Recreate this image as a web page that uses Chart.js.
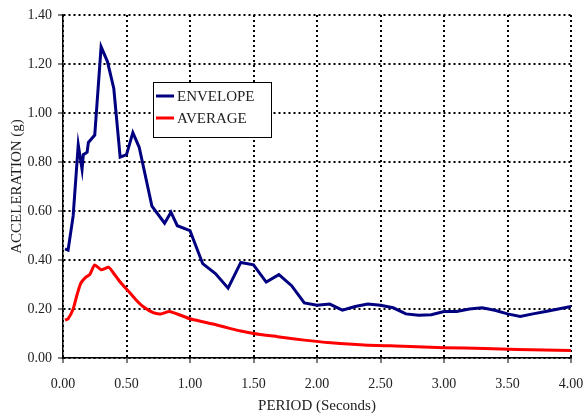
<!DOCTYPE html>
<html>
<head>
<meta charset="utf-8">
<script src="https://cdn.jsdelivr.net/npm/chart.js@4"></script>
<style>
  html, body { margin: 0; padding: 0; background: #fff; }
  #wrap { width: 586px; height: 419px; position: relative; }
</style>
</head>
<body>
<div id="wrap"><canvas id="spectrum"></canvas></div>
<script>
// envelope spectrum (period in seconds, acceleration in g)
const envelopePeriod = [0.016, 0.04, 0.08, 0.12, 0.15, 0.16, 0.19, 0.20, 0.25, 0.30, 0.35, 0.40, 0.45, 0.50, 0.55, 0.60,
  0.70, 0.80, 0.85, 0.90, 1.00, 1.10, 1.20, 1.30, 1.40, 1.50, 1.60, 1.70, 1.80, 1.90, 2.00, 2.10, 2.20, 2.30, 2.40,
  2.50, 2.60, 2.70, 2.80, 2.90, 3.00, 3.10, 3.20, 3.30, 3.40, 3.50, 3.60, 3.70, 3.80, 3.90, 4.00];
const envelopeAccel = [0.445, 0.44, 0.58, 0.87, 0.77, 0.83, 0.84, 0.88, 0.91, 1.27, 1.21, 1.10, 0.82, 0.83, 0.92, 0.86,
  0.62, 0.55, 0.595, 0.54, 0.52, 0.385, 0.345, 0.285, 0.39, 0.38, 0.31, 0.34, 0.295, 0.225, 0.215, 0.22, 0.195, 0.21, 0.22,
  0.215, 0.205, 0.18, 0.175, 0.177, 0.19, 0.19, 0.20, 0.205, 0.195, 0.18, 0.17, 0.18, 0.19, 0.20, 0.21];

// average spectrum
const averagePeriod = [0.016, 0.04, 0.08, 0.11, 0.14, 0.18, 0.21, 0.25, 0.30, 0.36, 0.40, 0.45, 0.52, 0.57, 0.63, 0.71,
  0.77, 0.84, 1.00, 1.11, 1.21, 1.32, 1.40, 1.50, 1.69, 1.90, 2.11, 2.37, 2.68, 3.00, 3.32, 3.58, 4.00];
const averageAccel = [0.155, 0.16, 0.20, 0.257, 0.305, 0.33, 0.34, 0.38, 0.36, 0.37, 0.345, 0.31, 0.27, 0.24, 0.21, 0.185,
  0.18, 0.19, 0.16, 0.147, 0.135, 0.12, 0.11, 0.10, 0.087, 0.073, 0.062, 0.053, 0.048, 0.042, 0.039, 0.035, 0.031];

const seriesNames = ["ENVELOPE", "AVERAGE"];
const xTitle = "PERIOD (Seconds)";
const yTitle = "ACCELERATION (g)";

const serif = "'Liberation Serif', 'DejaVu Serif', serif";

function toPoints(xs, ys) {
  return xs.map((x, i) => ({ x: x, y: ys[i] }));
}

// legend box sits inside the plot, drawn by hand
const boxLegend = {
  id: "boxLegend",
  afterDraw(chart) {
    const ctx = chart.ctx;
    const left = 153, top = 82, w = 118, h = 55;
    ctx.save();
    ctx.fillStyle = "#fff";
    ctx.fillRect(left, top, w, h);
    ctx.strokeStyle = "#000";
    ctx.lineWidth = 1;
    ctx.strokeRect(left + 0.5, top + 0.5, w, h);
    ctx.font = "15px " + serif;
    ctx.textBaseline = "middle";
    chart.data.datasets.forEach((ds, i) => {
      const y = top + 14 + i * 22;
      ctx.strokeStyle = ds.borderColor;
      ctx.lineWidth = 3;
      ctx.beginPath();
      ctx.moveTo(left + 3, y);
      ctx.lineTo(left + 21, y);
      ctx.stroke();
      ctx.fillStyle = "#222";
      ctx.fillText(ds.label, left + 24, y + 1);
    });
    ctx.restore();
  }
};

const ctx = document.getElementById("spectrum").getContext("2d");
const chart = new Chart(ctx, {
  type: "line",
  data: {
    datasets: [
      {
        label: seriesNames[0],
        data: toPoints(envelopePeriod, envelopeAccel),
        borderColor: "#000080",
        borderWidth: 3,
        pointRadius: 0,
        tension: 0
      },
      {
        label: seriesNames[1],
        data: toPoints(averagePeriod, averageAccel),
        borderColor: "#ff0000",
        borderWidth: 3,
        pointRadius: 0,
        tension: 0.2
      }
    ]
  },
  options: {
    responsive: true,
    maintainAspectRatio: false,
    animation: false,
    layout: { padding: { left: 0, top: 15, right: 15, bottom: 0 } },
    plugins: {
      legend: { display: false },
      tooltip: { enabled: false }
    },
    scales: {
      x: {
        type: "linear",
        min: 0,
        max: 4,
        afterFit: s => { s.height = 61; s.paddingLeft = 0; s.paddingRight = 0; },
        ticks: {
          stepSize: 0.5,
          color: "#222",
          font: { family: serif, size: 14 },
          padding: 13,
          maxRotation: 0,
          callback: v => v.toFixed(2)
        },
        grid: {
          color: "#000",
          lineWidth: 2,
          tickColor: "#000",
          tickWidth: 1,
          tickLength: 5
        },
        border: { color: "#000", width: 1.5, dash: [2, 3] },
        title: {
          display: true,
          text: xTitle,
          color: "#222",
          font: { family: serif, size: 15 },
          padding: { top: 6 }
        }
      },
      y: {
        min: 0,
        max: 1.4,
        afterFit: s => { s.width = 63; s.paddingTop = 0; s.paddingBottom = 0; },
        ticks: {
          stepSize: 0.2,
          color: "#222",
          font: { family: serif, size: 14 },
          padding: 6,
          callback: v => v.toFixed(2)
        },
        grid: {
          color: "#000",
          lineWidth: 2,
          tickColor: "#000",
          tickWidth: 1,
          tickLength: 5
        },
        border: { color: "#000", width: 1.5, dash: [2, 3] },
        title: {
          display: true,
          text: yTitle,
          color: "#222",
          font: { family: serif, size: 15 },
          padding: { top: 8, bottom: 0 }
        }
      }
    }
  },
  plugins: [boxLegend]
});
</script>
</body>
</html>
